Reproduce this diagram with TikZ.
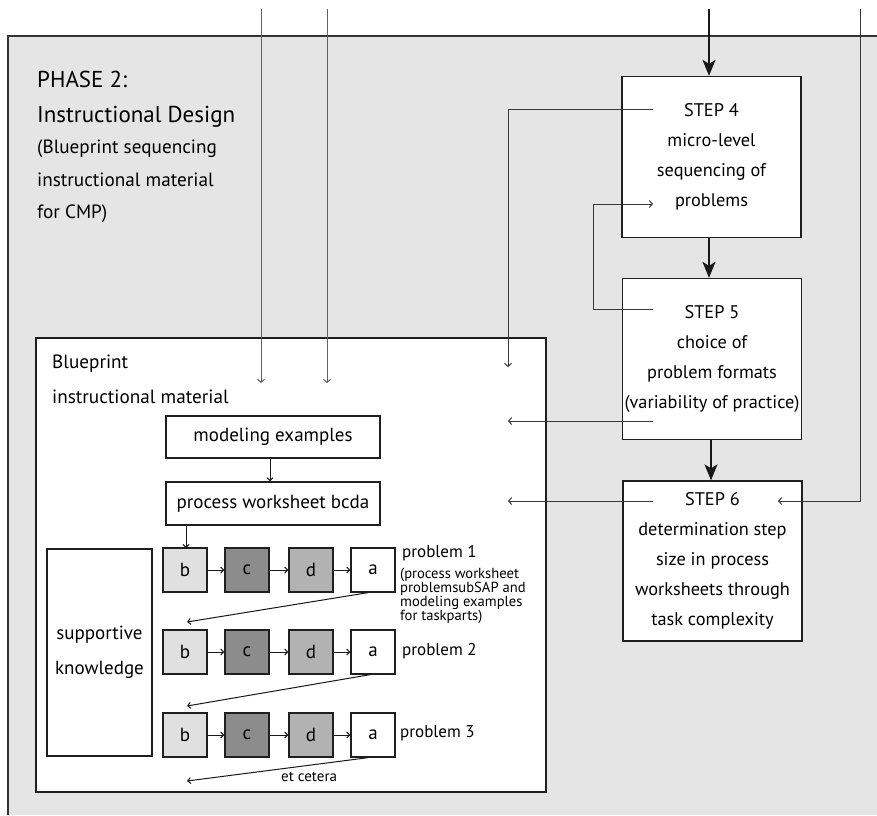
\documentclass[tikz,border=0pt]{standalone}
\usepackage{fontspec}
\setmainfont{PT Sans}
\usetikzlibrary{arrows.meta}
\begin{document}
\begin{tikzpicture}[x=1pt,y=-1pt,
  boxline/.style={draw=black!88, line width=1.3pt},
  stepbox/.style={boxline, fill=white, minimum width=179pt, minimum height=161pt, inner sep=0pt, align=center, font=\fontsize{18.3}{30}\selectfont},
  wbox/.style={boxline, fill=white, inner sep=0pt, font=\fontsize{19}{22}\selectfont},
  sq/.style={boxline, minimum width=44pt, minimum height=44pt, inner sep=0pt, font=\fontsize{19}{22}\selectfont},
  thick arrow/.style={line width=2pt, draw=black!90, -{Stealth[length=16pt,width=13pt,inset=4pt]}},
  thin/.style={line width=1pt, draw=black!78},
  thin arrow/.style={thin, -{Straight Barb[length=3pt,width=7pt]}},
  grey arrow/.style={line width=1pt, draw=black!62, -{Straight Barb[length=3pt,width=7pt]}},
  small arrow/.style={line width=1pt, draw=black!90, -{Straight Barb[length=3pt,width=6pt]}},
  txt/.style={inner sep=0pt, anchor=base west},
]
\useasboundingbox (0,0) rectangle (877,815);
% grey panel
\fill[black!10] (8,36) rectangle (877,815);
\draw[line width=1.3pt, black!80] (8,815) -- (8,36) -- (877,36);

% phase title
\node[txt, font=\fontsize{23}{23}\selectfont] (ph1) at (37,87) {PHASE 2:};
\node[txt, font=\fontsize{23}{23}\selectfont] (ph2) at (37,122) {Instructional Design};
\node[txt, font=\fontsize{19.2}{19}\selectfont] (ph3) at (37,153) {(Blueprint sequencing};
\node[txt, font=\fontsize{19.2}{19}\selectfont] (ph4) at (37,186) {instructional material};
\node[txt, font=\fontsize{19.2}{19}\selectfont] (ph5) at (37,218) {for CMP)};

% blueprint box
\node[boxline, fill=white, minimum width=510pt, minimum height=454pt, inner sep=0pt] (bp) at (291,565) {};
\node[txt, font=\fontsize{19.2}{19}\selectfont] (bpl1) at (52,368) {Blueprint};
\node[txt, font=\fontsize{19.2}{19}\selectfont] (bpl2) at (52,403) {instructional material};

% step boxes
\node[stepbox] (s4) at (711.5,157) {STEP 4\\micro-level\\sequencing of\\problems};
\node[stepbox] (s5) at (712,359) {STEP 5\\choice of\\problem formats\\(variability of practice)};
\node[stepbox, minimum height=160pt] (s6) at (712.5,561) {STEP 6\\determination step\\size in process\\worksheets through\\task complexity};

% top inputs
\coordinate (t1) at (261,9);
\coordinate (t2) at (327,9);
\coordinate (t3) at (709,9);
\coordinate (t4) at (860,9);
\coordinate (e1) at (261,383);
\coordinate (e2) at (327,383);
\draw[grey arrow] (t1) -- (e1);
\draw[grey arrow] (t2) -- (e2);
\draw[thick arrow] (t3) -- (s4.north -| t3);
\draw[thick arrow] (s4.south -| t3) -- (s5.north -| t3);
\draw[thick arrow] (s5.south -| 711,0) -- (s6.north -| 711,0);

% feedback / output lines
\coordinate (a4) at (653,109);
\coordinate (e4) at (508,367);
\draw[thin arrow] (a4) -| (e4);
\coordinate (a5a) at (653,309);
\coordinate (a5b) at (653,204);
\draw[thin arrow] (a5a) -- (593,309) -- (593,204) -- (a5b);
\coordinate (a5c) at (653,421);
\coordinate (e5) at (508,421);
\draw[thin arrow] (a5c) -- (e5);
\coordinate (a6) at (653,501);
\coordinate (e6) at (508,501);
\draw[thin arrow] (a6) -- (e6);
\coordinate (e6r) at (778,501);
\draw[thin arrow] (t4) -- (860,501) -- (e6r);

% inner boxes
\node[wbox, minimum width=214pt, minimum height=42pt] (me) at (273,437) {modeling examples};
\node[wbox, minimum width=214pt, minimum height=43pt] (pw) at (273,503.5) {process worksheet bcda};
\draw[small arrow] (me.south -| 270,0) -- (pw.north -| 270,0);
\draw[small arrow] (pw.south -| 186,0) -- (186,548);

\node[wbox, minimum width=105pt, minimum height=207pt, align=center, font=\fontsize{19}{35}\selectfont] (sk) at (99.5,652.5) {supportive\\knowledge};

% rows
\foreach \r/\y in {1/570,2/652,3/735} {
  \node[sq, fill=black!12] (b\r) at (185,\y) {b};
  \node[sq, fill=black!45] (c\r) at (247,\y) {c};
  \node[sq, fill=black!30] (d\r) at (311,\y) {d};
  \node[sq, fill=white] (a\r) at (373,\y) {a};
  \draw[small arrow] (b\r) -- (c\r);
  \draw[small arrow] (c\r) -- (d\r);
  \draw[small arrow] (d\r) -- (a\r);
}
\coordinate (n2) at (187,622);
\coordinate (n3) at (187,706);
\coordinate (n4) at (187,781);
\draw[small arrow] (a1.south -| 368,0) -- (n2);
\draw[small arrow] (a2.south -| 370,0) -- (n3);
\draw[small arrow] (a3.south -| 368,0) -- (n4);

\node[txt, font=\fontsize{17}{17}\selectfont] (p1) at (402,557) {problem 1};
\node[txt, font=\fontsize{17}{17}\selectfont] (p2) at (402,655) {problem 2};
\node[txt, font=\fontsize{17}{17}\selectfont] (p3) at (400,737) {problem 3};
\node[anchor=north west, inner sep=0pt, align=left, font=\fontsize{14.6}{13.8}\selectfont] (p1s) at (400,568) {(process worksheet\\problemsubSAP and\\modeling examples\\for taskparts)};
\node[txt, font=\fontsize{15}{15}\selectfont] (etc) at (281,781) {et cetera};
\end{tikzpicture}
\end{document}
